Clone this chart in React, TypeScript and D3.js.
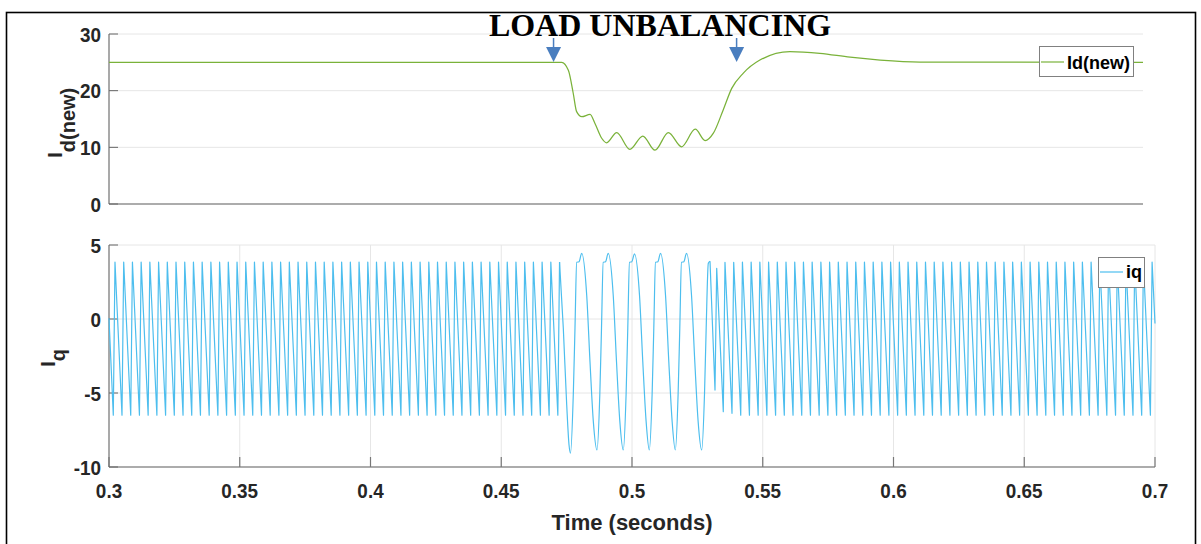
import React from "react";
import * as d3 from "d3";

const W = 1201;
const H = 544;

// Load-unbalancing event markers (s)
const eventTimes = [0.47, 0.54];

const timeTicks = [0.3, 0.35, 0.4, 0.45, 0.5, 0.55, 0.6, 0.65, 0.7];
const idTicks = [0, 10, 20, 30];
const iqTicks = [-10, -5, 0, 5];

// d-axis current Id(new)
const idTime = [
  0.3, 0.4751, 0.4777, 0.4796, 0.4809, 0.4829, 0.4861, 0.488, 0.4906, 0.4925,
  0.4964, 0.5015, 0.5065, 0.5112, 0.5164, 0.5215, 0.5268, 0.5306, 0.5338,
  0.5376, 0.5409, 0.5454, 0.5518, 0.5634, 0.575, 0.5867, 0.5983, 0.6137, 0.7,
];
const idValue = [
  25, 25, 23.6, 19.5, 16.3, 15.4, 15.8, 14.2, 11.6, 10.8, 12.6, 9.65, 12.0,
  9.5, 12.6, 10.1, 13.2, 11.2, 12.5, 16.6, 20.4, 23.1, 25.4, 26.9, 26.6, 25.9,
  25.4, 25.05, 25,
];

// q-axis current iq: steady 300 Hz ripple corners (trough then peak)
const iqTroughValue = -6.5;
const iqPeakValue = 3.85;
const iqRise = 0.00065;
const iqStart: [number, number] = [0.3, 0.05];
const iqEnd: [number, number] = [0.7, -0.3];

const iqPreTroughs = [
  0.30164, 0.30497, 0.30831, 0.31164, 0.31497, 0.31831, 0.32164, 0.32497,
  0.32831, 0.33164, 0.33497, 0.33831, 0.34164, 0.34497, 0.34831, 0.35164,
  0.35497, 0.35831, 0.36164, 0.36497, 0.36831, 0.37164, 0.37497, 0.37831,
  0.38164, 0.38497, 0.38831, 0.39164, 0.39497, 0.39831, 0.40164, 0.40497,
  0.40831, 0.41164, 0.41497, 0.41831, 0.42164, 0.42497, 0.42831, 0.43164,
  0.43497, 0.43831, 0.44164, 0.44497, 0.44831, 0.45164, 0.45497, 0.45831,
  0.46164, 0.46497, 0.46831, 0.47164,
];

// iq during the unbalanced interval (smooth 100 Hz swing)
const iqTransient: [number, number][] = [
  [0.47373, -0.63], [0.47503, -5.8], [0.47591, -8.5], [0.47648, -9.07],
  [0.47755, -5.1], [0.4782, -0.6], [0.47885, 3.83], [0.47973, 3.87], [0.48076, 4.44],
  [0.48268, 1.6], [0.48394, -2.9], [0.4852, -6.9], [0.48662, -8.85],
  [0.48769, -5.1], [0.48834, -0.6], [0.48899, 3.83], [0.48987, 3.87], [0.4909, 4.44],
  [0.49282, 1.6], [0.49408, -2.9], [0.49534, -6.9], [0.49667, -8.85],
  [0.49774, -5.1], [0.49839, -0.6], [0.49904, 3.83], [0.49992, 3.87], [0.50095, 4.4],
  [0.50287, 1.6], [0.50413, -2.9], [0.50539, -6.9], [0.50662, -8.85],
  [0.50769, -5.1], [0.50834, -0.6], [0.50899, 3.83], [0.50987, 3.87], [0.5109, 4.44],
  [0.51282, 1.6], [0.51408, -2.9], [0.51534, -6.9], [0.51656, -8.85],
  [0.51763, -5.1], [0.51828, -0.6], [0.51893, 3.83], [0.51981, 3.87], [0.52084, 4.44],
  [0.52276, 1.6], [0.52402, -2.9], [0.52528, -6.9], [0.52665, -8.85],
  [0.52772, -5.1], [0.52837, -0.6], [0.52918, 3.76], [0.52983, 3.9],
];

// first ripple cycles after the load is rebalanced
const iqLeadIn: [number, number][] = [
  [0.53174, -4.8], [0.53239, 3.43], [0.53491, -6.26], [0.53556, 3.83],
  [0.53824, -6.37], [0.53889, 3.83],
];

const iqPostTroughs = [
  0.54158, 0.54491, 0.54824, 0.55158, 0.55491, 0.55824, 0.56158, 0.56491,
  0.56824, 0.57158, 0.57491, 0.57824, 0.58158, 0.58491, 0.58824, 0.59158,
  0.59491, 0.59824, 0.60158, 0.60491, 0.60824, 0.61158, 0.61491, 0.61824,
  0.62158, 0.62491, 0.62824, 0.63158, 0.63491, 0.63824, 0.64158, 0.64491,
  0.64824, 0.65158, 0.65491, 0.65824, 0.66158, 0.66491, 0.66824, 0.67158,
  0.67491, 0.67824, 0.68158, 0.68491, 0.68824, 0.69158, 0.69491, 0.69824,
];

const SANS = "'Liberation Sans', Arial, Helvetica, sans-serif";
const SERIF = "'Liberation Serif', 'Times New Roman', serif";
const GREEN = "#7ab23a";
const BLUE = "#4dbeee";
const GRID = "#e6e6e6";
const INK = "#262626";

function rippleCorners(troughs: number[]): [number, number][] {
  const pts: [number, number][] = [];
  troughs.forEach((t) => {
    pts.push([t, iqTroughValue]);
    pts.push([t + iqRise, iqPeakValue]);
  });
  return pts;
}

// slightly condensed bold tick label
function Tick({ x, y, anchor, children }: { x: number; y: number; anchor: string; children: React.ReactNode }) {
  return (
    <text
      transform={`translate(${x},${y}) scale(0.9,1)`}
      textAnchor={anchor}
      fontFamily={SANS}
      fontWeight="bold"
      fontSize={21}
      fill={INK}
    >
      {children}
    </text>
  );
}

export default function App() {
  // top panel
  const xTop = d3.scaleLinear().domain([0.3, 0.7]).range([109, 1143]);
  const yTop = d3.scaleLinear().domain([0, 30]).range([204, 34]);
  // bottom panel
  const xBot = d3.scaleLinear().domain([0.3, 0.7]).range([109, 1155]);
  const yBot = d3.scaleLinear().domain([-10, 5]).range([467, 245]);

  const idPts: [number, number][] = idTime.map((t, i) => [t, idValue[i]]);
  const idLine = d3
    .line<[number, number]>()
    .x((d) => xTop(d[0]))
    .y((d) => yTop(d[1]))
    .curve(d3.curveMonotoneX);

  const linLine = d3
    .line<[number, number]>()
    .x((d) => xBot(d[0]))
    .y((d) => yBot(d[1]));
  const smoothLine = d3
    .line<[number, number]>()
    .x((d) => xBot(d[0]))
    .y((d) => yBot(d[1]))
    .curve(d3.curveMonotoneX);

  const preSeg: [number, number][] = [iqStart, ...rippleCorners(iqPreTroughs)];
  const lastPre = preSeg[preSeg.length - 1];
  const midSeg: [number, number][] = [lastPre, ...iqTransient];
  const lastMid = midSeg[midSeg.length - 1];
  const postSeg: [number, number][] = [
    lastMid,
    ...iqLeadIn,
    ...rippleCorners(iqPostTroughs),
    iqEnd,
  ];

  return (
    <svg
      width={W}
      height={H}
      style={{ position: "absolute", left: 0, top: 0, display: "block", background: "#fff" }}
    >
      <rect x={0} y={0} width={W} height={H} fill="#fff" />

      {/* ---------- top panel: Id(new) ---------- */}
      {idTicks.slice(1).map((v) => (
        <line key={"gt" + v} x1={xTop(0.3)} x2={xTop(0.7)} y1={yTop(v)} y2={yTop(v)} stroke={GRID} strokeWidth={1} />
      ))}
      <line x1={109} x2={109} y1={yTop(30)} y2={yTop(0)} stroke="#8c8c8c" strokeWidth={1.5} />
      <line x1={109} x2={xTop(0.7)} y1={yTop(0)} y2={yTop(0)} stroke="#5a5a5a" strokeWidth={1.2} />
      {idTicks.map((v) => (
        <g key={"tt" + v}>
          <line x1={109} x2={118} y1={yTop(v)} y2={yTop(v)} stroke="#666" strokeWidth={1} />
          <Tick x={101} y={yTop(v) + 7.5} anchor="end">{v}</Tick>
        </g>
      ))}
      <path d={idLine(idPts) || ""} fill="none" stroke={GREEN} strokeWidth={1.25} />
      <text transform="translate(62,158) rotate(-90)" fontFamily={SANS} fontWeight="bold" fontSize={21} fill={INK}>
        I
        <tspan fontSize={20} dy={12.5}>d(new)</tspan>
      </text>

      {/* legend */}
      <rect x={1039.5} y={46.5} width={94} height={30} fill="#fff" stroke="#808080" strokeWidth={1} />
      <line x1={1041} x2={1064} y1={62} y2={62} stroke={GREEN} strokeWidth={1.2} />
      <text x={1067} y={68.5} fontFamily={SANS} fontWeight="bold" fontSize={18} fill="#000">
        Id(new)
      </text>

      {/* ---------- bottom panel: iq ---------- */}
      {iqTicks.slice(1).map((v) => (
        <line key={"gb" + v} x1={109} x2={xBot(0.7)} y1={yBot(v)} y2={yBot(v)} stroke={GRID} strokeWidth={1} />
      ))}
      {timeTicks.slice(1).map((t) => (
        <line key={"gv" + t} x1={xBot(t)} x2={xBot(t)} y1={yBot(5)} y2={yBot(-10)} stroke={GRID} strokeWidth={1} />
      ))}
      <line x1={109} x2={109} y1={yBot(5)} y2={yBot(-10)} stroke="#8c8c8c" strokeWidth={1.5} />
      <line x1={109} x2={xBot(0.7)} y1={yBot(-10)} y2={yBot(-10)} stroke="#5a5a5a" strokeWidth={1.2} />
      {timeTicks.map((t) => (
        <g key={"xt" + t}>
          <line x1={xBot(t)} x2={xBot(t)} y1={yBot(-10)} y2={yBot(-10) - 10} stroke="#777" strokeWidth={1.2} />
          <Tick x={xBot(t)} y={498} anchor="middle">{String(t)}</Tick>
        </g>
      ))}
      {iqTicks.map((v) => (
        <g key={"yt" + v}>
          <line x1={109} x2={118} y1={yBot(v)} y2={yBot(v)} stroke="#666" strokeWidth={1} />
          <Tick x={101} y={yBot(v) + 7.5} anchor="end">{v}</Tick>
        </g>
      ))}
      <path d={linLine(preSeg) || ""} fill="none" stroke={BLUE} strokeWidth={1.2} strokeLinejoin="round" />
      <path d={smoothLine(midSeg) || ""} fill="none" stroke={BLUE} strokeWidth={1.2} />
      <path d={linLine(postSeg) || ""} fill="none" stroke={BLUE} strokeWidth={1.2} strokeLinejoin="round" />
      <text transform="translate(55,367) rotate(-90)" fontFamily={SANS} fontWeight="bold" fontSize={21} fill={INK}>
        I
        <tspan fontSize={20} dy={10}>q</tspan>
      </text>
      <text x={632} y={530} textAnchor="middle" fontFamily={SANS} fontWeight="bold" fontSize={22} fill={INK}>
        Time (seconds)
      </text>

      {/* legend */}
      <rect x={1098.5} y={257.5} width={46} height={30} fill="#fff" stroke="#808080" strokeWidth={1} />
      <line x1={1100} x2={1123} y1={272} y2={272} stroke={BLUE} strokeWidth={1.2} />
      <text x={1126} y={278} fontFamily={SANS} fontWeight="bold" fontSize={18} fill="#000">
        iq
      </text>

      {/* ---------- title and event markers ---------- */}
      <text x={660} y={36} textAnchor="middle" fontFamily={SERIF} fontWeight="bold" fontSize={32} fill="#000">
        LOAD UNBALANCING
      </text>
      {eventTimes.map((t) => {
        const cx = xBot(t);
        return (
          <g key={"ev" + t}>
            <line x1={cx} x2={cx} y1={38} y2={49} stroke="#4a7ebf" strokeWidth={1.5} />
            <path d={`M${cx - 7.5},47 L${cx + 7.5},47 L${cx},62 Z`} fill="#4a7ebf" />
          </g>
        );
      })}

      {/* outer frame */}
      <rect x={6.5} y={12.5} width={1189} height={600} fill="none" stroke="#000" strokeWidth={1.6} />
    </svg>
  );
}
